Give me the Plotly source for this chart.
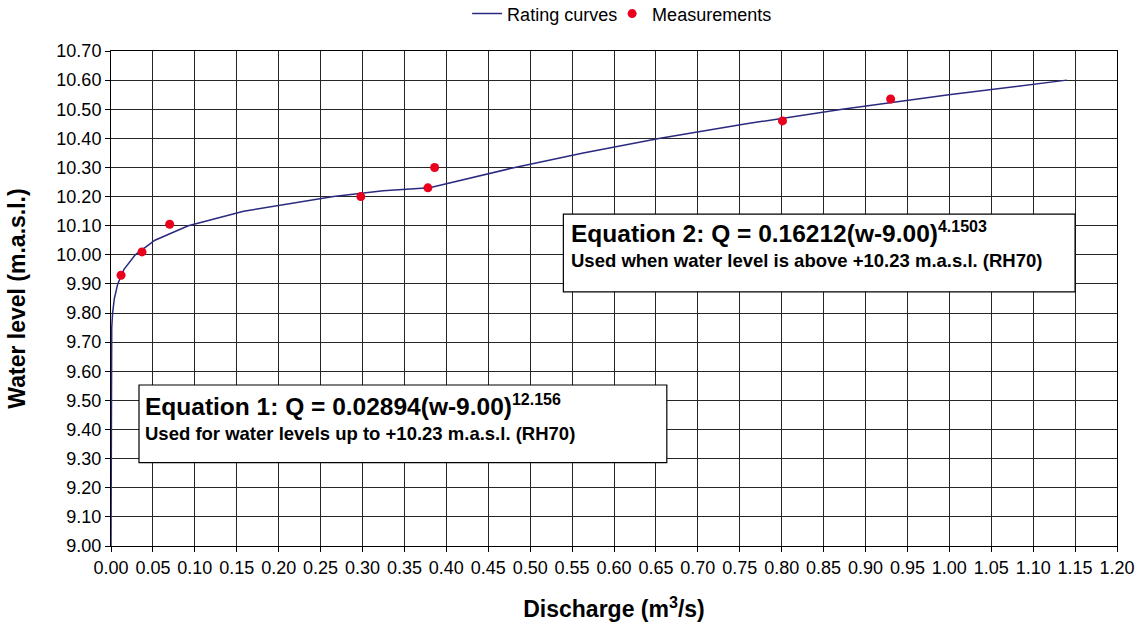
import plotly.graph_objects as go

# Rating curve polyline (discharge m3/s, water level m.a.s.l.)
rating_q = [0.0, 0.0, 0.0000004, 0.0000063, 0.000058, 0.000379, 0.000877, 0.00192,
            0.00401, 0.00804, 0.01551, 0.02894, 0.0524, 0.0922, 0.1582, 0.2655,
            0.2937, 0.3246, 0.3800, 0.4093, 0.4817, 0.5633, 0.6551,
            0.7579, 0.8723, 0.9994, 1.1401]
rating_w = [9.00, 9.20, 9.40, 9.50, 9.60, 9.70, 9.75, 9.80,
            9.85, 9.90, 9.95, 10.00, 10.05, 10.10, 10.15, 10.20,
            10.21, 10.22, 10.23, 10.25, 10.30, 10.35, 10.40,
            10.45, 10.50, 10.55, 10.60]

# Measurements
meas_q = [0.012, 0.037, 0.070, 0.298, 0.378, 0.386, 0.801, 0.930]
meas_w = [9.93, 10.01, 10.105, 10.20, 10.23, 10.30, 10.46, 10.535]

x_ticks = [round(i * 0.05, 2) for i in range(25)]
y_ticks = [round(9.0 + i * 0.1, 2) for i in range(18)]

fig = go.Figure()
fig.add_trace(go.Scatter(x=rating_q, y=rating_w, mode="lines", name="Rating curves",
                         line=dict(color="#2a2a80", width=1.5)))
fig.add_trace(go.Scatter(x=meas_q, y=meas_w, mode="markers", name="Measurements",
                         marker=dict(color="#e8001c", size=9)))
# invisible spacer entry so the last legend label is not clipped
fig.add_trace(go.Scatter(x=[None], y=[None], mode="markers", name=" ",
                         marker=dict(color="rgba(0,0,0,0)", size=1), hoverinfo="skip"))

font = "Arial, Liberation Sans, sans-serif"

fig.update_layout(
    width=1143, height=630,
    margin=dict(l=111, r=26, t=51, b=84, autoexpand=False),
    paper_bgcolor="white", plot_bgcolor="white",
    font=dict(family=font, color="black", size=18),
    legend=dict(orientation="h", x=0.354, y=1.075, xanchor="left", yanchor="middle",
                font=dict(size=18), itemwidth=30, entrywidth=100, tracegroupgap=0,
                bgcolor="rgba(0,0,0,0)"),
    showlegend=True,
    shapes=[
        dict(type="rect", xref="x", yref="y", x0=0.5396, x1=1.150, y0=9.873, y1=10.140,
             fillcolor="white", line=dict(color="black", width=1.2), layer="above"),
        dict(type="rect", xref="x", yref="y", x0=0.0334, x1=0.663, y0=9.286, y1=9.553,
             fillcolor="white", line=dict(color="black", width=1.2), layer="above"),
    ],
)

fig.update_xaxes(range=[0, 1.2], tickvals=x_ticks, ticktext=[f"{v:.2f}" for v in x_ticks],
                 showgrid=True, gridcolor="#262626", gridwidth=1,
                 showline=True, linecolor="black", linewidth=1, mirror=True,
                 ticks="outside", ticklen=5, tickcolor="black",
                 zeroline=False,
                 title=dict(text="<b>Discharge (m<sup>3</sup>/s)</b>", font=dict(size=23), standoff=24))
fig.update_yaxes(range=[9.0, 10.7], tickvals=y_ticks, ticktext=[f"{v:.2f}" for v in y_ticks],
                 showgrid=True, gridcolor="#262626", gridwidth=1,
                 showline=True, linecolor="black", linewidth=1, mirror=True,
                 ticks="outside", ticklen=5, tickcolor="black",
                 zeroline=False,
                 title=dict(text="<b>Water level (m.a.s.l.)</b>", font=dict(size=23), standoff=24))

fig.add_annotation(xref="x", yref="y", x=0.5463, y=10.077, xanchor="left", yanchor="middle",
                   showarrow=False, align="left",
                   text="<b>Equation 2: Q = 0.16212(w-9.00)<sup><span style='font-size:16px'>4.1503</span></sup></b>",
                   font=dict(size=24.5, color="black"))
fig.add_annotation(xref="x", yref="y", x=0.5463, y=9.980, xanchor="left", yanchor="middle",
                   showarrow=False, align="left",
                   text="<b>Used when water level is above +10.23 m.a.s.l. (RH70)</b>",
                   font=dict(size=18.5, color="black"))
fig.add_annotation(xref="x", yref="y", x=0.0382, y=9.482, xanchor="left", yanchor="middle",
                   showarrow=False, align="left",
                   text="<b>Equation 1: Q = 0.02894(w-9.00)<sup><span style='font-size:16px'>12.156</span></sup></b>",
                   font=dict(size=24.5, color="black"))
fig.add_annotation(xref="x", yref="y", x=0.0382, y=9.385, xanchor="left", yanchor="middle",
                   showarrow=False, align="left",
                   text="<b>Used for water levels up to +10.23 m.a.s.l. (RH70)</b>",
                   font=dict(size=18.5, color="black"))

fig.write_html("out.html")
